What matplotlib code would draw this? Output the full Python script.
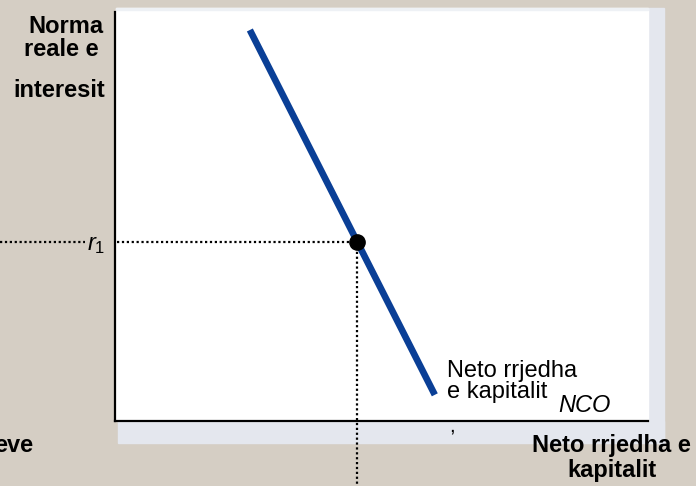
import matplotlib
matplotlib.use("Agg")
import matplotlib.pyplot as plt
from matplotlib.patches import Rectangle

plt.rcParams["font.family"] = ["Liberation Sans", "DejaVu Sans"]
plt.rcParams["mathtext.fontset"] = "custom"
plt.rcParams["mathtext.it"] = "Liberation Sans:italic"
plt.rcParams["mathtext.rm"] = "Liberation Sans"

W, H = 696, 486
BG = "#D5CEC4"
BLUE = "#0A3F96"

# kurba NCO (neto rrjedha e kapitalit) dhe pika e ekuilibrit
nco_x = [2.53, 6.00]
nco_y = [9.56, 0.64]
eq_x, eq_y = 4.54, 4.38

# kufijtë e boshteve ne piksel
AX_L, AX_R, AX_T, AX_B = 115, 648, 12, 421


def fx(px):
    return px / W


def fy(py):
    return 1 - py / H


fig = plt.figure(figsize=(W / 100, H / 100), dpi=100, facecolor=BG)


def panel(x0, y0, x1, y1, color):
    fig.patches.append(Rectangle((fx(x0), fy(y1)), fx(x1) - fx(x0), fy(y0) - fy(y1),
                                 transform=fig.transFigure, color=color, zorder=-5))


# paneli i bardhe me hije
panel(118, 421, 664, 443, "#E4E7EE")
panel(648, 8, 664, 443, "#E4E7EE")
panel(116, 8, 648, 421, "white")
panel(116, 8, 648, 10, "#EEF1F5")

ax = fig.add_axes([fx(AX_L), fy(AX_B), fx(AX_R) - fx(AX_L), fy(AX_T) - fy(AX_B)])
ax.patch.set_alpha(0)
ax.set_xlim(0, 10)
ax.set_ylim(0, 10)
for s in ("top", "right"):
    ax.spines[s].set_visible(False)
for s in ("left", "bottom"):
    ax.spines[s].set_linewidth(1.6)
    ax.spines[s].set_color("black")
ax.set_xticks([])
ax.set_yticks([])

ax.plot(nco_x, nco_y, color=BLUE, lw=4.8, solid_capstyle="butt", zorder=3)

# vijat me pika (dalin jashte boshteve)
x_per_px = 10 / (AX_R - AX_L)
y_per_px = 10 / (AX_B - AX_T)
dot = dict(color="black", lw=1.6, ls=(0, (1, 1.2)), clip_on=False, zorder=2)
ax.plot([0.03, eq_x], [eq_y, eq_y], **dot)
ax.plot([-AX_L * x_per_px, (85 - AX_L) * x_per_px], [eq_y, eq_y], **dot)
ax.plot([eq_x, eq_x], [eq_y, -(H - AX_B) * y_per_px], **dot)
ax.plot([eq_x], [eq_y], "o", color="black", ms=11, zorder=4)

# tekstet
bold = dict(fontsize=17, fontweight="bold", color="black")
fig.text(fx(103), fy(33), "Norma", ha="right", va="baseline", **bold)
fig.text(fx(99), fy(56), "reale e", ha="right", va="baseline", **bold)
fig.text(fx(105), fy(97), "interesit", ha="right", va="baseline", **bold)
fig.text(fx(33), fy(452), "eve", ha="right", va="baseline", **bold)
fig.text(fx(611), fy(452), "Neto rrjedha e", ha="center", va="baseline", **bold)
fig.text(fx(612), fy(477), "kapitalit", ha="center", va="baseline", **bold)

fig.text(fx(87), fy(250), r"$r_1$", ha="left", va="baseline", fontsize=17)
fig.text(fx(447), fy(377), "Neto rrjedha", ha="left", va="baseline", fontsize=17)
fig.text(fx(447), fy(398), "e kapitalit", ha="left", va="baseline", fontsize=17)
fig.text(fx(558), fy(412), "NCO", ha="left", va="baseline", fontsize=17, style="italic")
fig.text(fx(449), fy(432), ",", ha="left", va="baseline", fontsize=15)

fig.savefig("out.png", dpi=100, facecolor=BG)
